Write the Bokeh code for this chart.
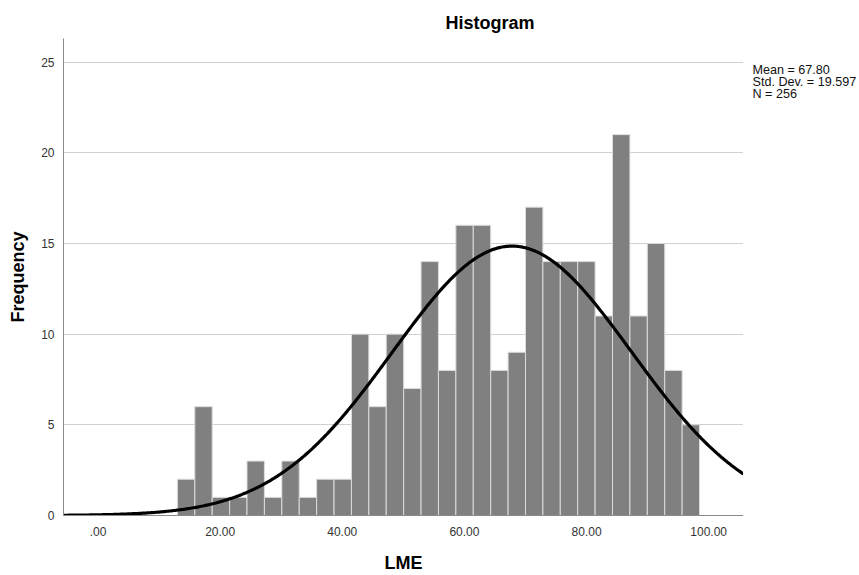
import numpy as np
from bokeh.plotting import figure
from bokeh.layouts import row
from bokeh.models import Range1d, Title
from bokeh.core.properties import value
from bokeh.embed import file_html
from bokeh.resources import INLINE

# Histogram of LME: 30 equal-width bins
counts = [2, 6, 1, 1, 3, 1, 3, 1, 2, 2,
          10, 6, 10, 7, 14, 8, 16, 16, 8, 9,
          17, 14, 14, 14, 11, 21, 11, 15, 8, 5]
bin_start = 13.0
bin_width = 2.85

# Summary statistics (also drive the fitted normal curve)
mean = 67.80
std_dev = 19.597
n_cases = 256

x_ticks = [0, 20, 40, 60, 80, 100]
x_tick_labels = [".00", "20.00", "40.00", "60.00", "80.00", "100.00"]
y_ticks = [0, 5, 10, 15, 20, 25]

FONT = "Liberation Sans"
HEIGHT = 575
TOP, BOTTOM = 38, 60

x_lo, x_hi = -5.65, 105.7
p = figure(width=743, height=HEIGHT, output_backend="svg", toolbar_location=None,
           x_range=Range1d(x_lo, x_hi), y_range=Range1d(0, 26.3),
           min_border_left=63, min_border_right=0,
           min_border_top=TOP, min_border_bottom=BOTTOM)
p.outline_line_color = None

# Bars
lefts = [bin_start + i * bin_width for i in range(len(counts))]
rights = [l + bin_width for l in lefts]
p.quad(left=lefts, right=rights, bottom=0, top=counts,
       fill_color="#808080", line_color="#dcdcdc", line_width=1)

# Normal curve scaled to counts per bin
xs = np.linspace(x_lo, x_hi, 500)
ys = n_cases * bin_width / (std_dev * np.sqrt(2 * np.pi)) * np.exp(-0.5 * ((xs - mean) / std_dev) ** 2)
p.line(xs, ys, line_color="black", line_width=3.2)

# Grid
p.xgrid.visible = False
p.ygrid.ticker = y_ticks
p.ygrid.grid_line_color = "#d0d0d0"

# Axes
for ax in (p.xaxis[0], p.yaxis[0]):
    ax.axis_line_color = "#8a8a8a"
    ax.major_tick_line_color = None
    ax.minor_tick_line_color = None
    ax.major_label_text_font = FONT
    ax.major_label_text_font_size = "12px"
    ax.major_label_text_color = "#333333"
    ax.axis_label_text_font = FONT
    ax.axis_label_text_font_size = "18px"
    ax.axis_label_text_font_style = "bold"
    ax.axis_label_text_color = "black"

p.xaxis.ticker = x_ticks
p.xaxis.major_label_overrides = {t: s for t, s in zip(x_ticks, x_tick_labels)}
p.xaxis.major_label_standoff = 5
p.xaxis.axis_label = "LME"
p.xaxis.axis_label_standoff = 14

p.yaxis.ticker = y_ticks
p.yaxis.major_label_standoff = 3
p.yaxis.axis_label = "Frequency"
p.yaxis.axis_label_standoff = 10

p.add_layout(Title(text="Histogram", align="left", offset=382, standoff=12,
                   text_font=FONT, text_font_size="18px", text_font_style="bold",
                   text_color="black"), "above")

# Side panel holding the statistics text; its frame lines up with the main
# plot's frame, so the y range is set in page pixels measured from the bottom
side_w = 116
s = figure(width=side_w, height=HEIGHT, output_backend="svg", toolbar_location=None,
           x_range=Range1d(0, side_w), y_range=Range1d(BOTTOM, HEIGHT - TOP),
           min_border_left=0, min_border_right=0,
           min_border_top=TOP, min_border_bottom=BOTTOM,
           x_axis_location=None, y_axis_location=None)
s.outline_line_color = None
s.grid.visible = False

stats = [f"Mean = {mean:.2f}", f"Std. Dev. = {std_dev:.3f}", f"N = {n_cases}"]
first_baseline = 69
line_gap = 12
s.text(x=[9] * len(stats),
       y=[HEIGHT - (first_baseline + line_gap * i) for i in range(len(stats))],
       text=stats, text_font=value(FONT), text_font_size="12.6px",
       text_color="#111111", text_baseline="alphabetic", text_align="left")

layout = row(p, s)
open("out.html", "w").write(file_html(layout, INLINE))
